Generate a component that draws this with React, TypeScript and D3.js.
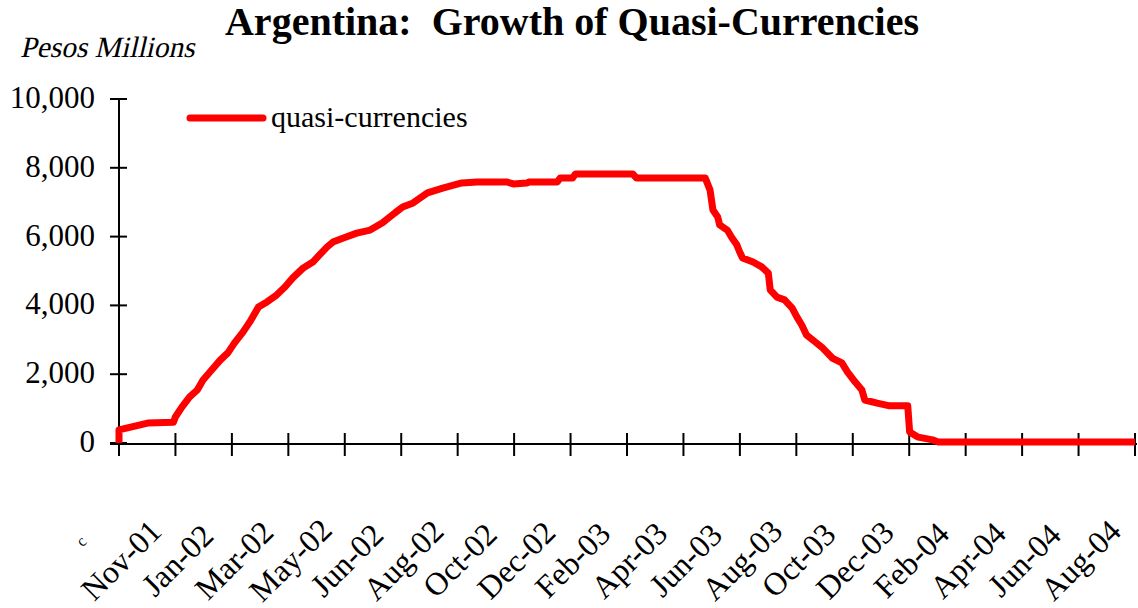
import * as d3 from 'd3';

import { useCallback } from 'react';

const title = 'Argentina:  Growth of Quasi-Currencies';
const unitLabel = 'Pesos Millions';
const seriesName = 'quasi-currencies';

// tick labels along the date axis (one per major tick, last tick unlabelled)
const xTickLabels = [
  'Nov-01', 'Jan-02', 'Mar-02', 'May-02', 'Jun-02', 'Aug-02', 'Oct-02', 'Dec-02', 'Feb-03',
  'Apr-03', 'Jun-03', 'Aug-03', 'Oct-03', 'Dec-03', 'Feb-04', 'Apr-04', 'Jun-04', 'Aug-04',
];
const xStart = '2001-11-01';
const xEnd = '2004-09-30';

const yTicks = [0, 2000, 4000, 6000, 8000, 10000];

// stock of quasi-currencies, pesos millions
const dates = [
  '2001-11-01', '2001-11-01', '2001-12-01', '2001-12-28', '2001-12-30', '2002-01-06', '2002-01-14',
  '2002-01-22', '2002-01-28', '2002-02-06', '2002-02-15', '2002-02-23', '2002-03-02', '2002-03-11',
  '2002-03-18', '2002-03-27', '2002-04-05', '2002-04-15', '2002-04-24', '2002-05-02', '2002-05-13',
  '2002-05-23', '2002-05-30', '2002-06-07', '2002-06-13', '2002-06-24', '2002-07-08', '2002-07-22',
  '2002-08-04', '2002-08-17', '2002-08-25', '2002-09-05', '2002-09-20', '2002-10-06', '2002-10-26',
  '2002-11-11', '2002-12-12', '2002-12-19', '2003-01-02', '2003-01-05', '2003-02-03', '2003-02-06',
  '2003-02-19', '2003-02-22', '2003-04-23', '2003-04-27', '2003-07-08', '2003-07-13', '2003-07-16',
  '2003-07-21', '2003-07-23', '2003-07-31', '2003-08-05', '2003-08-10', '2003-08-13', '2003-08-16',
  '2003-08-27', '2003-09-05', '2003-09-12', '2003-09-14', '2003-09-21', '2003-09-29', '2003-10-07',
  '2003-10-12', '2003-10-17', '2003-10-22', '2003-10-31', '2003-11-08', '2003-11-18', '2003-11-28',
  '2003-12-04', '2003-12-12', '2003-12-19', '2003-12-22', '2004-01-04', '2004-01-17', '2004-02-05',
  '2004-02-07', '2004-02-16', '2004-03-02', '2004-03-08', '2004-09-30',
];
const values = [
  0, 380, 580, 600, 755, 1050, 1340,
  1540, 1830, 2120, 2410, 2620, 2910, 3230,
  3520, 3950, 4100, 4300, 4540, 4800, 5090,
  5260, 5470, 5700, 5840, 5960, 6100, 6190,
  6400, 6690, 6860, 6980, 7270, 7410, 7560,
  7590, 7590, 7530, 7560, 7590, 7590, 7700,
  7700, 7820, 7820, 7700, 7700, 7350, 6770,
  6570, 6340, 6190, 5960, 5760, 5550, 5380,
  5260, 5120, 4940, 4450, 4240, 4160, 3920,
  3660, 3430, 3140, 2940, 2760, 2470, 2330,
  2060, 1770, 1540, 1250, 1160, 1080, 1080,
  320, 170, 90, 30, 30,
];

const width = 1138;
const height = 608;
const serif = '"Liberation Serif", "Times New Roman", serif';

const QuasiChart = () => {
  const draw = useCallback((ref: SVGSVGElement | null) => {
    if (!ref) return;

    const svg = d3.select(ref);
    svg.selectAll('*').remove();

    const parse = d3.utcParse('%Y-%m-%d');
    const data = dates.map((d, i) => ({ x: parse(d) as Date, y: values[i] }));

    const x0 = parse(xStart) as Date;
    const x1 = parse(xEnd) as Date;
    const xScale = d3.scaleUtc().domain([x0, x1]).range([119, 1135]);
    const yScale = d3.scaleLinear().domain([0, 10000]).range([443, 99]);

    const nTicks = xTickLabels.length + 1;
    const tickDates = d3
      .range(nTicks)
      .map((k) => new Date(+x0 + (k * (+x1 - +x0)) / (nTicks - 1)));

    // title and unit
    svg
      .append('text')
      .attr('x', 572)
      .attr('y', 35)
      .attr('text-anchor', 'middle')
      .attr('font-family', serif)
      .attr('font-weight', 'bold')
      .attr('font-size', 40)
      .style('white-space', 'pre')
      .text(title);

    // italic face is not reliable here, so slant the regular serif
    svg
      .append('text')
      .attr('transform', 'translate(20, 57) skewX(-13)')
      .attr('font-family', serif)
      .attr('font-size', 29.5)
      .text(unitLabel);

    // y axis
    const yAxis = svg.append('g');
    yAxis
      .append('line')
      .attr('x1', 119)
      .attr('x2', 119)
      .attr('y1', yScale(10000))
      .attr('y2', yScale(0))
      .attr('stroke', 'black')
      .attr('stroke-width', 2);
    yAxis
      .selectAll('.ytick')
      .data(yTicks)
      .enter()
      .append('line')
      .attr('x1', 110)
      .attr('x2', 127)
      .attr('y1', (d) => yScale(d))
      .attr('y2', (d) => yScale(d))
      .attr('stroke', 'black')
      .attr('stroke-width', 2);
    yAxis
      .selectAll('.ylab')
      .data(yTicks)
      .enter()
      .append('text')
      .attr('x', 95)
      .attr('y', (d) => yScale(d) + 9)
      .attr('text-anchor', 'end')
      .attr('font-family', serif)
      .attr('font-size', 31)
      .text((d) => d3.format(',')(d));

    // x axis
    const xAxis = svg.append('g');
    xAxis
      .append('line')
      .attr('x1', 110)
      .attr('x2', 1137)
      .attr('y1', 444)
      .attr('y2', 444)
      .attr('stroke', 'black')
      .attr('stroke-width', 2);
    xAxis
      .selectAll('.xtick')
      .data(tickDates)
      .enter()
      .append('line')
      .attr('x1', (d) => xScale(d))
      .attr('x2', (d) => xScale(d))
      .attr('y1', 433)
      .attr('y2', 456)
      .attr('stroke', 'black')
      .attr('stroke-width', 2);
    xAxis
      .selectAll('.xlab')
      .data(xTickLabels)
      .enter()
      .append('text')
      .attr('transform', (_, i) => `translate(${xScale(tickDates[i]) + 2}, 560) rotate(-45)`)
      .attr('text-anchor', 'middle')
      .attr('dominant-baseline', 'central')
      .attr('font-family', serif)
      .attr('font-size', 32)
      .text((d) => d);

    // stray clipped label fragment
    svg
      .append('text')
      .attr('transform', 'translate(85, 545) rotate(-45)')
      .attr('text-anchor', 'middle')
      .attr('font-family', serif)
      .attr('font-size', 16)
      .text('c');

    // series
    const line = d3
      .line<{ x: Date; y: number }>()
      .x((d) => xScale(d.x))
      .y((d) => yScale(d.y));

    svg
      .append('path')
      .attr('d', line(data))
      .attr('fill', 'none')
      .attr('stroke', '#ff0000')
      .attr('stroke-width', 7)
      .attr('stroke-linejoin', 'round');

    // legend
    svg
      .append('line')
      .attr('x1', 190)
      .attr('x2', 263)
      .attr('y1', 118)
      .attr('y2', 118)
      .attr('stroke', '#ff0000')
      .attr('stroke-width', 7)
      .attr('stroke-linecap', 'round');
    svg
      .append('text')
      .attr('x', 271)
      .attr('y', 127)
      .attr('font-family', serif)
      .attr('font-size', 30)
      .text(seriesName);
  }, []);

  return <svg width={width} height={height} ref={draw} style={{ display: 'block' }}></svg>;
};

const App = () => (
  <div>
    <style>{`body { margin: 0; }`}</style>
    <QuasiChart />
  </div>
);

export default App;
